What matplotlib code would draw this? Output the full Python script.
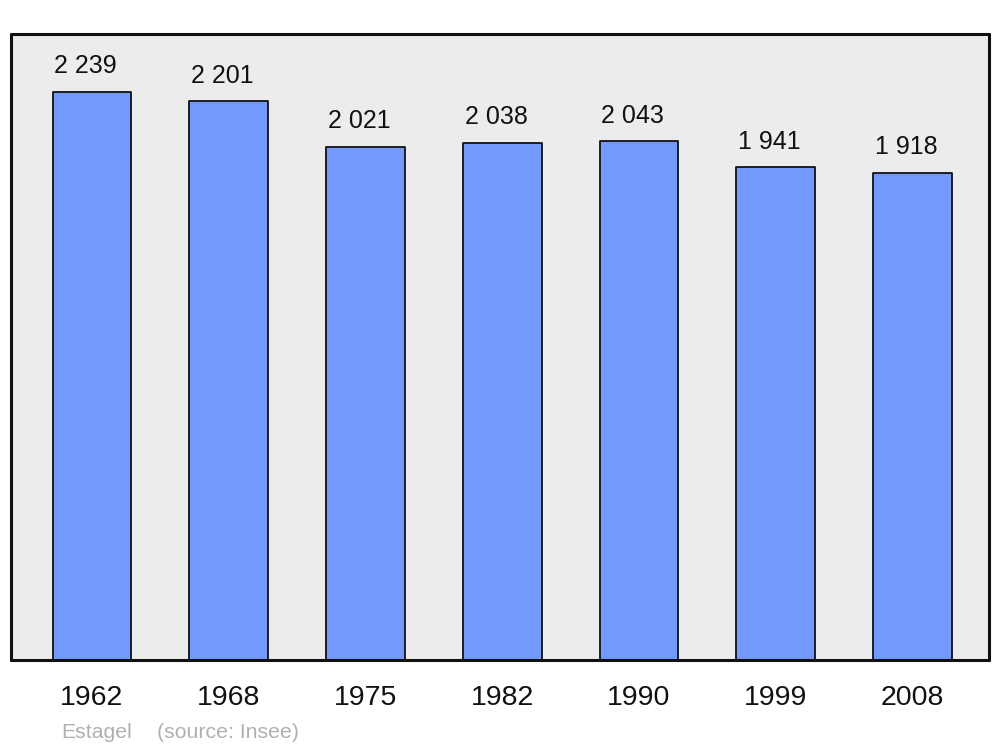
#!/usr/bin/python3
# -*- coding: utf-8 -*-

# Population history bar chart (Estagel)

import matplotlib
matplotlib.use('Agg')
import matplotlib.pyplot as plt

years = ['1962', '1968', '1975', '1982', '1990', '1999', '2008']
population = [2239, 2201, 2021, 2038, 2043, 1941, 1918]
commune = 'Estagel'
source = '(source: Insee)'


def fmt_thousands(v):
    # 2239 -> "2 239"
    return '{:,}'.format(v).replace(',', ' ')


def main():
    plt.rcParams['font.family'] = ['Liberation Sans', 'DejaVu Sans']

    fig = plt.figure(figsize=(10, 7.47), dpi=100)
    ax = fig.add_axes([0.011, 0.1165, 0.978, 0.838])
    ax.set_facecolor('#ececec')

    xs = list(range(len(years)))
    bars = ax.bar(xs, population, width=0.575,
                  color='#7399ff', edgecolor='#111111', linewidth=1.3,
                  joinstyle='round', zorder=2)

    # valeurs au-dessus des barres (légèrement décalées à gauche)
    for rect, v in zip(bars, population):
        ax.annotate(fmt_thousands(v),
                    xy=(rect.get_x() + rect.get_width() / 2, rect.get_height()),
                    xytext=(-4.5, 13.5), textcoords='offset points',
                    ha='center', va='baseline', fontsize=18, color='#111111')

    ax.set_xlim(-0.592, 6.56)
    ax.set_ylim(0, 2466)

    ax.set_xticks(xs)
    ax.set_xticklabels(years, fontsize=20.5, color='#111111')
    ax.tick_params(axis='x', length=0, pad=18)
    ax.set_yticks([])

    for sp in ax.spines.values():
        sp.set_linewidth(2.2)
        sp.set_color('#111111')
        sp.set_capstyle('round')

    fig.text(0.061, 0.0125, commune, fontsize=15.3, color='#b0b0b0',
             ha='left', va='baseline')
    fig.text(0.157, 0.0125, source, fontsize=15.3, color='#b0b0b0',
             ha='left', va='baseline')

    fig.savefig('out.png', dpi=100, facecolor='white')


if __name__ == '__main__':
    main()
